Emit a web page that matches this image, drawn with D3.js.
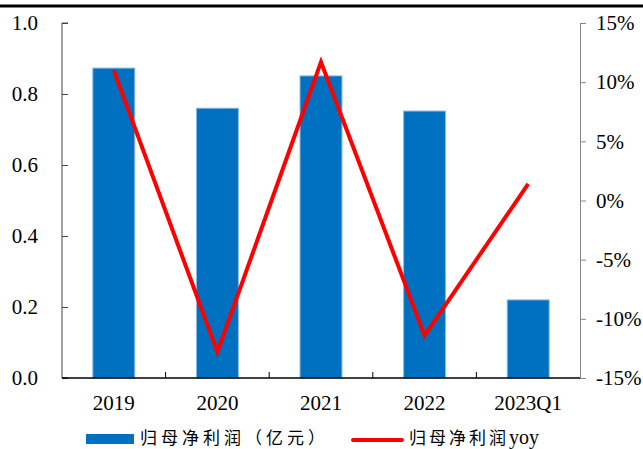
<!DOCTYPE html>
<html>
<head>
<meta charset="utf-8">
<script src="https://cdn.jsdelivr.net/npm/d3@7"></script>
<style>
  body { margin: 0; background: #fff; }
  svg text { font-family: "Liberation Serif", "Times New Roman", serif; }
</style>
</head>
<body>
<div id="chart"></div>
<script>
const categories = ['2019', '2020', '2021', '2022', '2023Q1'];
const profit = [0.873, 0.76, 0.851, 0.752, 0.22];      // 归母净利润（亿元）
const profitYoy = [11.0, -12.8, 11.7, -11.4, 1.4];     // 归母净利润yoy, %
const leftTicks = [0, 0.2, 0.4, 0.6, 0.8, 1.0];
const rightTicks = [-15, -10, -5, 0, 5, 10, 15];

const width = 643, height = 449;
const plotL = 62, plotR = 580, plotT = 23, plotB = 378;

const svg = d3.select('#chart').append('svg')
    .attr('width', width)
    .attr('height', height);

// black rule at the top
svg.append('line')
    .attr('x1', 0).attr('x2', width)
    .attr('y1', 6).attr('y2', 6)
    .attr('stroke', '#000').attr('stroke-width', 3);

const x = d3.scaleBand().domain(categories).range([plotL, plotR]).paddingInner(0.595).paddingOuter(0.2975);
const xs = d3.scaleBand().domain(categories).range([plotL, plotR]);
const y = d3.scaleLinear().domain([0, 1]).range([plotB, plotT]);
const y2 = d3.scaleLinear().domain([-15, 15]).range([plotB, plotT]);

// bars
svg.selectAll('.bar')
    .data(profit)
    .enter().append('rect')
    .attr('class', 'bar')
    .attr('x', (d, i) => x(categories[i]))
    .attr('y', d => y(d))
    .attr('width', x.bandwidth())
    .attr('height', d => plotB - y(d))
    .attr('fill', '#0070C0')
    .attr('stroke', '#8fb8e0')
    .attr('stroke-width', 1);

// left axis
const yAxis = svg.append('g')
    .attr('transform', `translate(${plotL},0)`)
    .call(d3.axisRight(y).tickValues(leftTicks).tickSize(6).tickFormat(d3.format('.1f')));
yAxis.select('.domain').attr('stroke', '#444').attr('d', `M6,${plotT}H0V${plotB}H6`);
yAxis.selectAll('.tick line').attr('stroke', '#444');
yAxis.selectAll('.tick text')
    .attr('x', -24).attr('text-anchor', 'end')
    .attr('font-size', 21).attr('fill', '#000');

// right axis
const y2Axis = svg.append('g')
    .attr('transform', `translate(${plotR},0)`)
    .call(d3.axisRight(y2).tickValues(rightTicks).tickSize(6).tickFormat(d => d + '%'));
y2Axis.select('.domain').attr('stroke', '#888');
y2Axis.selectAll('.tick line').attr('stroke', '#888');
y2Axis.selectAll('.tick text')
    .attr('x', 16)
    .attr('font-size', 21).attr('fill', '#000');

// bottom axis
const xAxis = svg.append('g')
    .attr('transform', `translate(0,${plotB})`)
    .call(d3.axisBottom(xs).tickSize(0));
xAxis.select('.domain').attr('stroke', '#000').attr('stroke-width', 1.5).attr('d', `M${plotL},0H${plotR}`);
xAxis.selectAll('.tick text')
    .attr('y', 17)
    .attr('font-size', 21).attr('fill', '#000');
xAxis.selectAll('.sep')
    .data(categories.slice(1))
    .enter().append('line')
    .attr('x1', d => xs(d)).attr('x2', d => xs(d))
    .attr('y1', 0).attr('y2', -6)
    .attr('stroke', '#000');

// yoy line
const line = d3.line()
    .x((d, i) => xs(categories[i]) + xs.bandwidth() / 2)
    .y(d => y2(d));
svg.append('path')
    .datum(profitYoy)
    .attr('d', line)
    .attr('fill', 'none')
    .attr('stroke', '#FF0000')
    .attr('stroke-width', 4)
    .attr('stroke-linejoin', 'miter');

// legend
const legend = svg.append('g');
legend.append('rect')
    .attr('x', 86).attr('y', 434)
    .attr('width', 48).attr('height', 10)
    .attr('fill', '#0070C0');
legend.append('text')
    .attr('x', 140).attr('y', 444)
    .attr('font-size', 17)
    .style('font-family', '"Noto Sans CJK SC", serif')
    .attr('letter-spacing', 4)
    .text('归母净利润（亿元）');
legend.append('line')
    .attr('x1', 353).attr('x2', 402)
    .attr('y1', 440).attr('y2', 440)
    .attr('stroke', '#FF0000').attr('stroke-width', 4)
    .attr('stroke-linecap', 'round');
legend.append('text')
    .attr('x', 409).attr('y', 444)
    .attr('font-size', 17)
    .style('font-family', '"Noto Sans CJK SC", serif')
    .attr('letter-spacing', 3)
    .text('归母净利润')
    .append('tspan')
    .attr('letter-spacing', 0)
    .style('font-family', '"Liberation Serif", serif')
    .attr('font-size', 20)
    .text('yoy');
</script>
</body>
</html>
